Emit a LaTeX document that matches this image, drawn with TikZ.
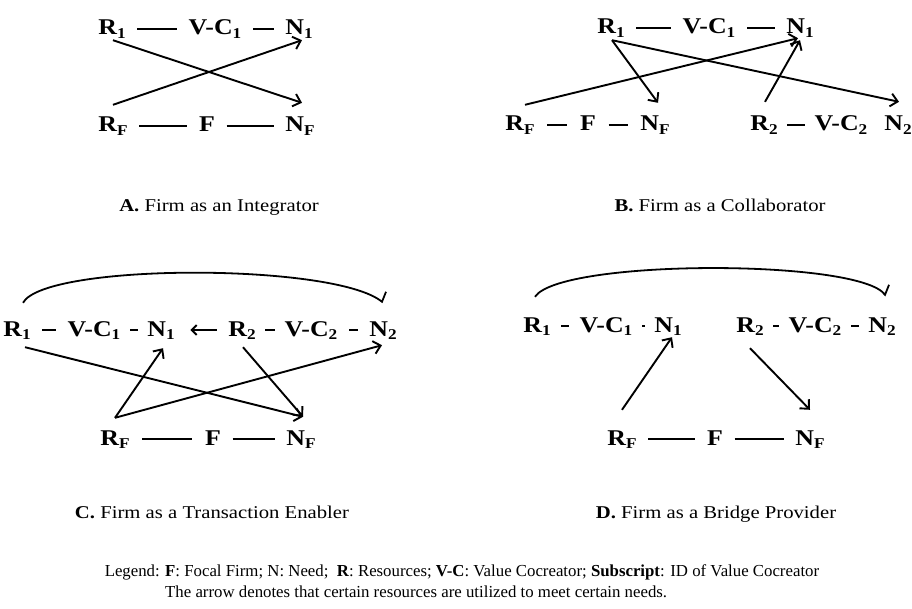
\documentclass[tikz,border=0pt]{standalone}
\usepackage{fontspec}
\setmainfont[FakeStretch=1.15]{Liberation Serif}
\newfontfamily\legfont{Liberation Serif}
\usetikzlibrary{arrows.meta,calc}
\newcommand\lbl[2]{#1\raisebox{-0.35ex}{\fontsize{15}{15}\selectfont #2}}
\begin{document}
\begin{tikzpicture}[x=1pt,y=-1pt,
  lab/.style={font=\fontsize{22.5}{22.5}\selectfont\bfseries, inner sep=1.5pt, text height=14pt, text depth=2pt, anchor=base},
  captxt/.style={font=\fontsize{18}{20}\selectfont, inner sep=0pt, anchor=base},
  legtxt/.style={font=\legfont\fontsize{16.8}{19}\selectfont, inner sep=0pt, anchor=base west},
  lnk/.style={line width=1.9pt, shorten <=#1, shorten >=#1},
  lnk/.default=10pt,
  arr/.style={line width=1.9pt, -{Straight Barb[length=7pt,width=13pt]}},
  arc/.style={line width=1.8pt}]
\useasboundingbox (0,0) rectangle (912,609);

% ---------- Panel A ----------
\node[lab] (a-r1)  at (112,35)  {\lbl{R}{1}};
\node[lab] (a-vc1) at (215,35)  {\lbl{V-C}{1}};
\node[lab] (a-n1)  at (299,35)  {\lbl{N}{1}};
\node[lab] (a-rf)  at (113,132) {\lbl{R}{F}};
\node[lab] (a-f)   at (207,132) {F};
\node[lab] (a-nf)  at (300,132) {\lbl{N}{F}};
\draw[lnk] (a-r1) -- (a-vc1);
\draw[lnk] (a-vc1) -- (a-n1);
\draw[lnk] (a-rf) -- (a-f);
\draw[lnk] (a-f) -- (a-nf);
\draw[arr] ($(a-r1.south)+(1,1.5)$) -- ($(a-nf.north)+(2,-13.5)$);
\draw[arr] ($(a-rf.north)+(0,-11.5)$) -- ($(a-n1.south)+(3,1.5)$);
\node[captxt] (a-cap) at (219,212) {\textbf{A.} Firm as an Integrator};

% ---------- Panel B ----------
\node[lab] (b-r1)  at (611,34)  {\lbl{R}{1}};
\node[lab] (b-vc1) at (709,34)  {\lbl{V-C}{1}};
\node[lab] (b-n1)  at (800,34)  {\lbl{N}{1}};
\node[lab] (b-rf)  at (520,131) {\lbl{R}{F}};
\node[lab] (b-f)   at (588,131) {F};
\node[lab] (b-nf)  at (655,131) {\lbl{N}{F}};
\node[lab] (b-r2)  at (764,131) {\lbl{R}{2}};
\node[lab] (b-vc2) at (841,131) {\lbl{V-C}{2}};
\node[lab] (b-n2)  at (898,131) {\lbl{N}{2}};
\draw[lnk] (b-r1) -- (b-vc1);
\draw[lnk] (b-vc1) -- (b-n1);
\draw[lnk=11pt] (b-rf) -- (b-f);
\draw[lnk=11pt] (b-f) -- (b-nf);
\draw[lnk=8pt] (b-r2) -- (b-vc2);
\draw[arr] ($(b-r1.south)+(1,2.5)$) -- ($(b-nf.north)+(3,-12.5)$);
\draw[arr] ($(b-r1.south)+(1,2.5)$) -- ($(b-n2.north)+(1,-13.5)$);
\draw[arr] ($(b-rf.north)+(5,-10.5)$) -- ($(b-n1.south)+(-2,0.5)$);
\draw[arr] ($(b-r2.north)+(1,-13.5)$) -- ($(b-n1.south)+(0,2.5)$);
\node[captxt] (b-cap) at (720,212) {\textbf{B.} Firm as a Collaborator};

% ---------- Panel C ----------
\node[lab] (c-r1)  at (17,336)  {\lbl{R}{1}};
\node[lab] (c-vc1) at (94,336)  {\lbl{V-C}{1}};
\node[lab] (c-n1)  at (161,336) {\lbl{N}{1}};
\node[lab] (c-r2)  at (242,336) {\lbl{R}{2}};
\node[lab] (c-vc2) at (311,336) {\lbl{V-C}{2}};
\node[lab] (c-n2)  at (383,336) {\lbl{N}{2}};
\node[lab] (c-rf)  at (115,445) {\lbl{R}{F}};
\node[lab] (c-f)   at (213,445) {F};
\node[lab] (c-nf)  at (301,445) {\lbl{N}{F}};
\draw[lnk=10pt] (c-r1) -- (c-vc1);
\draw[lnk=8pt] (c-vc1) -- (c-n1);
\draw[lnk=8pt] (c-r2) -- (c-vc2);
\draw[lnk=10pt] (c-vc2) -- (c-n2);
\draw[arr, -{Straight Barb[length=5pt,width=10pt]}, shorten <=10pt, shorten >=14pt] (c-r2) -- (c-n1);
\draw[lnk=11pt] (c-rf) -- (c-f);
\draw[lnk=10pt] (c-f) -- (c-nf);
\draw[arr] ($(c-r1.south)+(8,7.5)$) -- ($(c-nf.north)+(2,-12.5)$);
\draw[arr] ($(c-rf.north)+(0,-11.5)$) -- ($(c-n1.south)+(2,8.5)$);
\draw[arr] ($(c-rf.north)+(0,-11.5)$) -- ($(c-n2.south)+(-1,5.5)$);
\draw[arr] ($(c-r2.south)+(1,7.5)$) -- ($(c-nf.north)+(2,-12.5)$);
\draw[arc] ($(c-r1.north)+(6,-17.5)$) .. controls +(22,-40) and +(-47,-39) .. ($(c-n2.north)+(-1,-18.5)$) -- ++(4,-10);
\node[captxt] (c-cap) at (212,518) {\textbf{C.} Firm as a Transaction Enabler};

% ---------- Panel D ----------
\node[lab] (d-r1)  at (537,332) {\lbl{R}{1}};
\node[lab] (d-vc1) at (606,332) {\lbl{V-C}{1}};
\node[lab] (d-n1)  at (668,332) {\lbl{N}{1}};
\node[lab] (d-r2)  at (750,332) {\lbl{R}{2}};
\node[lab] (d-vc2) at (815,332) {\lbl{V-C}{2}};
\node[lab] (d-n2)  at (882,332) {\lbl{N}{2}};
\node[lab] (d-rf)  at (622,445) {\lbl{R}{F}};
\node[lab] (d-f)   at (715,445) {F};
\node[lab] (d-nf)  at (810,445) {\lbl{N}{F}};
\draw[lnk=9pt] (d-r1) -- (d-vc1);
\draw[lnk=8pt] (d-vc1) -- (d-n1);
\draw[lnk=8pt] (d-r2) -- (d-vc2);
\draw[lnk=8pt] (d-vc2) -- (d-n2);
\draw[lnk=10pt] (d-rf) -- (d-f);
\draw[lnk=10pt] (d-f) -- (d-nf);
\draw[arr] ($(d-rf.north)+(0,-19.5)$) -- ($(d-n1.south)+(4,1.5)$);
\draw[arr] ($(d-r2.south)+(0,12.5)$) -- ($(d-nf.north)+(0,-19.5)$);
\draw[arc] ($(d-r1.north)+(-2,-19.5)$) .. controls +(25,-38) and +(-25,-36) .. ($(d-n2.north)+(3,-21.5)$) -- ++(4,-10);
\node[captxt] (d-cap) at (716,518) {\textbf{D.} Firm as a Bridge Provider};

% ---------- Legend ----------
\node[legtxt, anchor=base east] (leg0) at (160,576) {Legend:};
\node[legtxt] (leg1) at (165,576) {\textbf{F}: Focal Firm; N: Need;\ \ \textbf{R}: Resources; \textbf{V-C}: Value Cocreator; \textbf{Subscript}: ID of Value Cocreator};
\node[legtxt] (leg2) at (165,597) {The arrow denotes that certain resources are utilized to meet certain needs.};
\end{tikzpicture}
\end{document}
